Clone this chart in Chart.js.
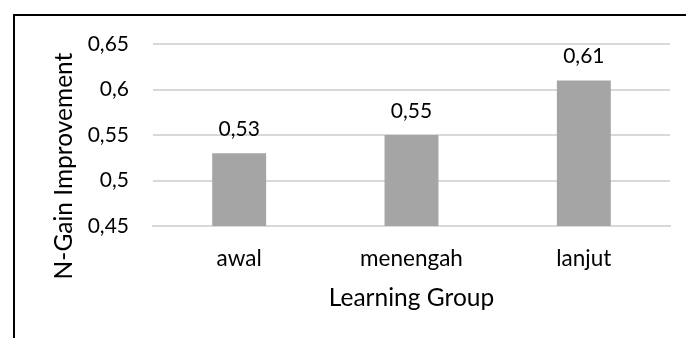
<!DOCTYPE html>
<html>
<head>
<meta charset="utf-8">
<script src="https://cdn.jsdelivr.net/npm/chart.js@4"></script>
<style>
  html, body { margin: 0; padding: 0; background: #fff; }
  #wrap { position: relative; width: 686px; height: 338px; overflow: hidden; }
  #frame {
    position: absolute; left: 13px; top: 14px; right: -10px; bottom: -10px;
    border-left: 2px solid #000; border-top: 2px solid #000;
  }
  canvas { position: absolute; left: 0; top: 0; }
</style>
</head>
<body>
<div id="wrap">
  <div id="frame"></div>
  <canvas id="chart" width="686" height="338"></canvas>
</div>
<script>
var groups = ["awal", "menengah", "lanjut"];
var gains = [0.53, 0.55, 0.61];
var yTicks = [0.45, 0.5, 0.55, 0.6, 0.65];
var xTitle = "Learning Group";
var yTitle = "N-Gain Improvement";

var FONT = "Lato, 'Liberation Sans', sans-serif";
var TEXT = "#000";

function comma(v) {
  return String(Math.round(v * 100) / 100).replace(".", ",");
}

// value above each bar + the y title (Excel centres it lower than the axis)
var extraText = {
  id: "extraText",
  afterDatasetsDraw: function (chart) {
    var ctx = chart.ctx;
    var meta = chart.getDatasetMeta(0);
    ctx.save();
    ctx.font = "21px " + FONT;
    ctx.fillStyle = TEXT;
    ctx.textAlign = "center";
    ctx.textBaseline = "alphabetic";
    meta.data.forEach(function (bar, i) {
      ctx.fillText(comma(gains[i]), bar.x, bar.y - 17);
    });

    var y = chart.scales.y;
    ctx.translate(64, (y.top + y.bottom) / 2 + 31);
    ctx.rotate(-Math.PI / 2);
    ctx.font = "24.5px " + FONT;
    ctx.textBaseline = "middle";
    ctx.fillText(yTitle, 0, 0);
    ctx.restore();
  },
};

new Chart(document.getElementById("chart"), {
  type: "bar",
  data: {
    labels: groups,
    datasets: [
      {
        data: gains,
        backgroundColor: "#a5a5a5",
        borderWidth: 0,
        categoryPercentage: 1,
        barPercentage: 0.313,
      },
    ],
  },
  options: {
    responsive: false,
    animation: false,
    events: [],
    layout: { padding: { left: 47, right: 16, top: 44, bottom: 0 } },
    plugins: { legend: { display: false }, tooltip: { enabled: false } },
    scales: {
      x: {
        grid: { display: false, drawTicks: false },
        border: { display: true, color: "#d9d9d9", width: 2 },
        ticks: { color: TEXT, font: { family: FONT, size: 22.5 }, padding: 19 },
        title: {
          display: true,
          text: xTitle,
          color: TEXT,
          font: { family: FONT, size: 24.5 },
          padding: { top: 8, bottom: 25 },
        },
        afterFit: function (scale) { scale.height = 112; },
      },
      y: {
        min: 0.45,
        max: 0.65,
        afterBuildTicks: function (scale) {
          scale.ticks = yTicks.map(function (v) { return { value: v }; });
        },
        grid: { color: "#d9d9d9", lineWidth: 2, drawTicks: false },
        border: { display: false },
        ticks: {
          color: TEXT,
          font: { family: FONT, size: 21 },
          padding: 24,
          callback: function (v) { return comma(v); },
        },
        afterFit: function (scale) { scale.width = 106; },
      },
    },
  },
  plugins: [extraText],
});
</script>
</body>
</html>
